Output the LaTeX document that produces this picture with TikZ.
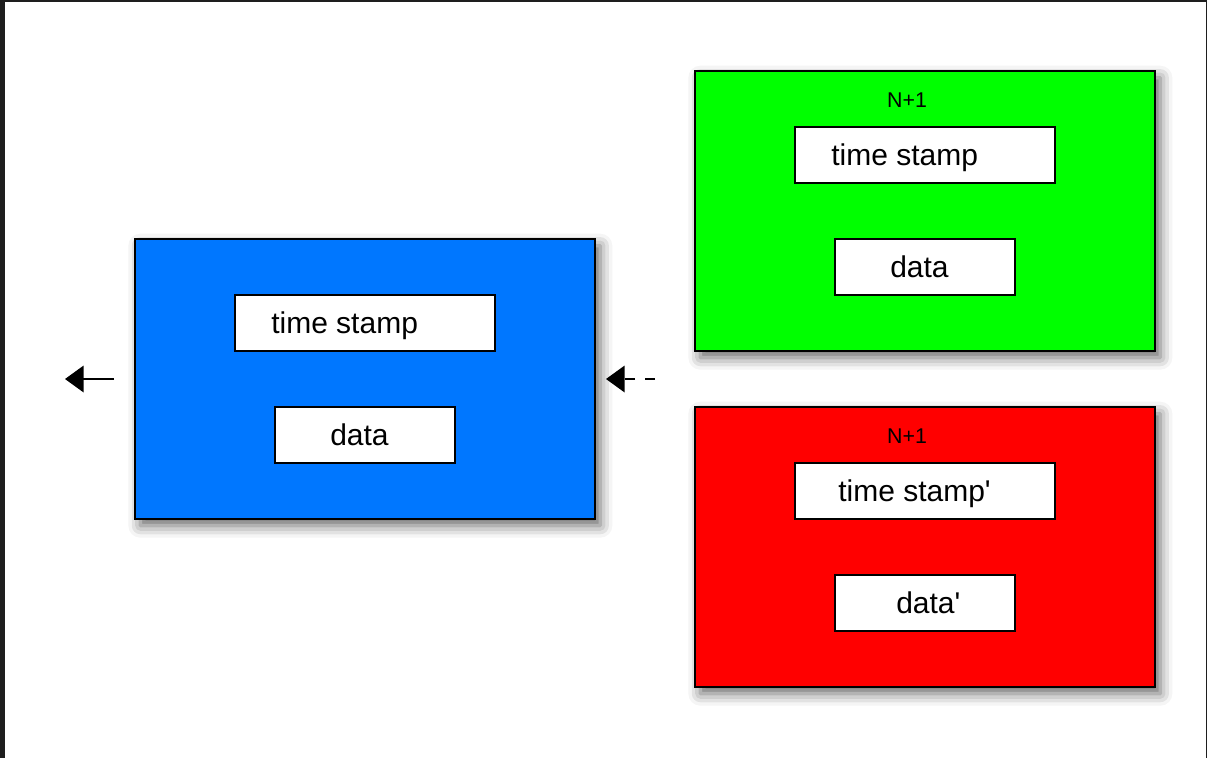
\documentclass[tikz,border=0pt]{standalone}
\usepackage{fontspec}
\setmainfont{Liberation Sans}[Ligatures=TeXOff]
\usetikzlibrary{arrows.meta,shadows.blur}

\definecolor{blueN}{RGB}{0,119,255}
\definecolor{greenN}{RGB}{0,255,0}
\definecolor{redN}{RGB}{255,0,0}
\definecolor{edgeN}{RGB}{30,30,30}

\tikzset{
	frame/.style={draw=black, line width=1.5pt, minimum width=345pt, minimum height=210pt,
		inner sep=0pt, blur shadow={shadow xshift=4pt, shadow yshift=-5pt, shadow blur radius=9pt, shadow opacity=60}},
	field/.style={draw=black, fill=white, line width=1.1pt, minimum width=195pt, minimum height=42pt, inner sep=0pt},
	short/.style={minimum width=135pt},
	lbl/.style={inner sep=0pt, anchor=base west, font=\fontsize{22.5}{27}\selectfont},
	tag/.style={inner sep=0pt, anchor=base, font=\fontsize{16}{19}\selectfont},
	flow/.style={line width=1.1pt, -{Triangle[length=14pt,width=20pt]}}
}

\begin{document}
\begin{tikzpicture}[x=0.75pt,y=-0.75pt]
	
	\useasboundingbox (0,0) rectangle (1207,758);
	% window edges
	\fill[edgeN] (0,0) rectangle (5,758);
	\fill[edgeN] (0,0) rectangle (1207,1.5);
	\fill[edgeN] (1205.5,0) rectangle (1207,758);
	
	% current packet
	\node[frame, fill=blueN] (cur) at (365,379) {};
	\node[field] (curts) at (365,323) {};
	\node[field, short] (curdat) at (365,435) {};
	\node[lbl] at (271,333) {time stamp};
	\node[lbl] at (330,445) {data};
	
	% next packet
	\node[frame, fill=greenN] (nxt) at (925,211) {};
	\node[tag] at (907,107) {N+1};
	\node[field] (nxtts) at (925,155) {};
	\node[field, short] (nxtdat) at (925,267) {};
	\node[lbl] at (831,165) {time stamp};
	\node[lbl] at (890,277) {data};
	
	% altered packet
	\node[frame, fill=redN] (alt) at (925,547) {};
	\node[tag] at (907,443) {N+1};
	\node[field] (altts) at (925,491) {};
	\node[field, short] (altdat) at (925,603) {};
	\node[lbl] at (838,501) {time stamp'};
	\node[lbl] at (896,613) {data'};
	
	\coordinate (out) at (65,379);
	\coordinate (in) at (655,379);
	\draw[flow, shorten <=15pt] (cur.west) -- (out);
	\draw[flow, dash pattern=on 7.5pt off 7.5pt, shorten >=7.5pt] (in) -- (cur.east);
	
\end{tikzpicture}
\end{document}
